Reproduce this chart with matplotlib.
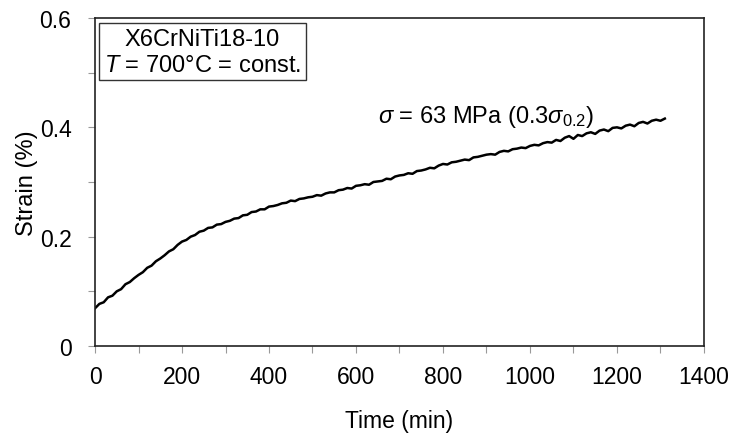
import numpy as np
import matplotlib
matplotlib.use('Agg')
from matplotlib import pyplot as plt
from matplotlib.ticker import MultipleLocator

plt.rcParams['font.family'] = ['Liberation Sans', 'DejaVu Sans']
plt.rcParams['mathtext.fontset'] = 'custom'
plt.rcParams['mathtext.rm'] = 'Liberation Sans'
plt.rcParams['mathtext.it'] = 'Liberation Sans:italic'

# creep curve, one value every 10 min
time_min = np.arange(0, 1320, 10)
strain = [
    0.069, 0.077, 0.080, 0.089, 0.092, 0.100, 0.104, 0.113, 0.117, 0.124,
    0.130, 0.135, 0.143, 0.147, 0.155, 0.160, 0.166, 0.173, 0.177, 0.185,
    0.191, 0.194, 0.200, 0.203, 0.209, 0.211, 0.216, 0.217, 0.222, 0.223,
    0.227, 0.229, 0.233, 0.234, 0.239, 0.240, 0.245, 0.246, 0.250, 0.250,
    0.255, 0.256, 0.258, 0.261, 0.262, 0.266, 0.265, 0.269, 0.270, 0.272,
    0.273, 0.276, 0.275, 0.279, 0.281, 0.281, 0.285, 0.286, 0.289, 0.288,
    0.293, 0.294, 0.296, 0.295, 0.300, 0.301, 0.302, 0.306, 0.305, 0.310,
    0.312, 0.313, 0.316, 0.315, 0.320, 0.321, 0.323, 0.326, 0.325, 0.330,
    0.333, 0.332, 0.336, 0.337, 0.339, 0.341, 0.340, 0.345, 0.346, 0.348,
    0.350, 0.351, 0.350, 0.355, 0.357, 0.356, 0.360, 0.361, 0.363, 0.362,
    0.366, 0.368, 0.367, 0.371, 0.373, 0.372, 0.377, 0.375, 0.381, 0.384,
    0.379, 0.386, 0.384, 0.389, 0.391, 0.388, 0.394, 0.396, 0.393, 0.399,
    0.400, 0.398, 0.403, 0.405, 0.402, 0.408, 0.410, 0.407, 0.412, 0.414,
    0.412, 0.416,
]

x_ticks = [0, 200, 400, 600, 800, 1000, 1200, 1400]
y_ticks = [0, 0.2, 0.4, 0.6]
y_labels = ['0', '0.2', '0.4', '0.6']

fig = plt.figure(figsize=(7.32, 4.39), dpi=100)
ax = fig.add_axes([0.1298, 0.2096, 0.8319, 0.7471])

ax.plot(time_min, strain, color='black', lw=1.8)

ax.set_xlim(0, 1400)
ax.set_ylim(0, 0.6)
ax.set_xticks(x_ticks)
ax.set_xticklabels([str(t) for t in x_ticks])
ax.set_yticks(y_ticks)
ax.set_yticklabels(y_labels)
ax.xaxis.set_minor_locator(MultipleLocator(100))
ax.yaxis.set_minor_locator(MultipleLocator(0.1))
ax.tick_params(which='both', direction='out', length=5, width=0.8, color='#999999', labelsize=16.5)
ax.tick_params(axis='x', which='both', pad=9)
ax.tick_params(axis='y', which='both', pad=12)
ax.tick_params(which='both', top=False, right=False)
for s in ax.spines.values():
    s.set_linewidth(1.2)
    s.set_color('#222222')

ax.set_xlabel('Time (min)', fontsize=16.5, labelpad=15)
ax.set_ylabel('Strain (%)', fontsize=17, labelpad=1)

ax.text(247, 0.538, 'X6CrNiTi18-10\n$T$ = 700°C = const.', fontsize=17,
        ha='center', va='center', linespacing=1.2,
        bbox=dict(boxstyle='square,pad=0.2', fc='white', ec='#333333', lw=1))

ax.text(651, 0.42, r'$\sigma$ = 63 MPa (0.3$\sigma_{0.2}$)', fontsize=17,
        ha='left', va='center')

fig.savefig('out.png', dpi=100)
